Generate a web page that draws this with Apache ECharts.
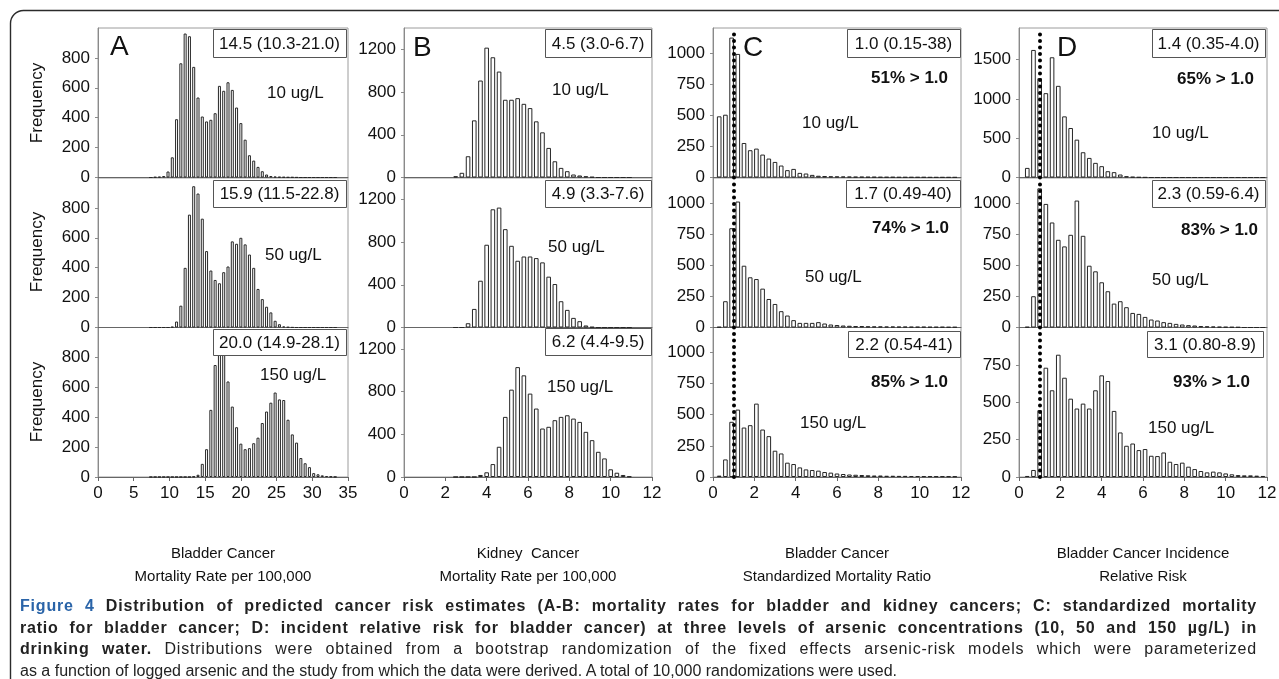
<!DOCTYPE html>
<html>
<head>
<meta charset="utf-8">
<script src="https://cdn.jsdelivr.net/npm/echarts@6.0.0/dist/echarts.min.js"></script>
<style>
html,body{margin:0;padding:0;background:#fff;}
#wrap{position:relative;width:1279px;height:679px;overflow:hidden;}
#c{position:absolute;left:0;top:0;width:1279px;height:679px;}
#cap{position:absolute;left:20px;top:595px;width:1237px;font-family:"Liberation Sans",Arial,Helvetica,sans-serif;font-size:16px;line-height:21.7px;color:#222;}
#cap .j{text-align:justify;text-align-last:justify;letter-spacing:0.8px;white-space:nowrap;}
#cap .fig{color:#2a64a8;}
</style>
</head>
<body>
<div id="wrap">
<div id="c"></div>
<div id="cap">
<div class="j"><b><span class="fig">Figure 4</span> Distribution of predicted cancer risk estimates (A-B: mortality rates for bladder and kidney cancers; C: standardized mortality</b></div>
<div class="j"><b>ratio for bladder cancer; D: incident relative risk for bladder cancer) at three levels of arsenic concentrations (10, 50 and 150 µg/L) in</b></div>
<div class="j"><b>drinking water.</b> Distributions were obtained from a bootstrap randomization of the fixed effects arsenic-risk models which were parameterized</div>
<div>as a function of logged arsenic and the study from which the data were derived. A total of 10,000 randomizations were used.</div>
</div>
</div>
<script>
// ---------------- DATA ----------------
// Panel A: bladder cancer mortality rate per 100,000 (bin centres)
const aBins = [7.4,8.0,8.6,9.2,9.8,10.4,11.0,11.6,12.2,12.8,13.4,14.0,14.6,15.2,15.8,16.4,17.0,17.6,18.2,18.8,19.4,20.0,20.6,21.2,21.8,22.4,23.0,23.6,24.2,24.8,25.4,26.0,26.6,27.2,27.8,28.4,29.0,29.6,30.2,30.8,31.4,32.0,32.6,33.2];
const aFreq10  = [0,3,5,10,40,135,390,764,963,945,740,535,408,375,386,430,613,580,637,586,468,364,253,149,113,71,42,20,10,6,4,3,2,2,1,0,0,0,0,0,0,0,0,0];
const aFreq50  = [0,0,0,0,0,5,40,146,399,755,945,896,728,511,381,318,296,370,408,576,560,600,556,488,399,258,190,139,101,45,22,7,3,1,0,0,0,0,0,0,0,0,0,0];
const aFreq150 = [0,0,0,0,0,0,0,0,0,0,3,15,88,186,449,749,940,900,639,471,333,223,186,193,226,263,361,438,497,565,519,515,383,285,230,127,92,66,26,18,11,6,3,1];

// Panel B: kidney cancer mortality rate per 100,000
const bBins = [2.5,2.8,3.1,3.4,3.7,4.0,4.3,4.6,4.9,5.2,5.5,5.8,6.1,6.4,6.7,7.0,7.3,7.6,7.9,8.2,8.5,8.8,9.1,9.4,9.7,10.0,10.3,10.6,10.9];
const bFreq10  = [12,44,199,535,908,1216,1126,992,728,728,743,690,650,526,423,277,152,90,59,28,19,12,5,0,0,0,0,0,0];
const bFreq50  = [0,0,40,174,438,775,1107,1123,921,765,625,665,665,650,610,476,407,246,165,90,59,19,5,0,0,0,0,0,0];
const bFreq150 = [0,0,0,0,19,44,121,283,563,818,1029,952,781,641,454,470,532,563,578,547,516,423,345,236,174,72,40,19,5];

// Panel C: bladder cancer standardized mortality ratio
const cBins = [0.3,0.6,0.9,1.2,1.5,1.8,2.1,2.4,2.7,3.0,3.3,3.6,3.9,4.2,4.5,4.8,5.1,5.4,5.7,6.0,6.3,6.6,6.9,7.2,7.5,7.8,8.1,8.4,8.7,9.0,9.3,9.6,9.9,10.2,10.5,10.8,11.1,11.4,11.7];
const cFreq10  = [491,504,1123,992,277,219,232,184,152,125,96,59,69,37,32,21,14,12,10,9,8,7,6,6,5,5,4,4,4,3,3,3,3,3,2,2,2,2,2];
const cFreq50  = [5,211,797,1011,496,403,389,312,229,189,131,96,59,37,37,37,43,32,24,20,16,14,12,12,10,9,9,8,8,7,7,6,6,6,5,5,5,4,4];
const cFreq150 = [11,141,443,541,397,416,589,381,328,211,189,115,104,77,61,56,51,40,35,28,24,20,18,16,14,12,12,10,10,9,9,8,8,7,7,6,6,6,5];

// Panel D: bladder cancer incidence relative risk
const dBins = [0.4,0.7,1.0,1.3,1.6,1.9,2.2,2.5,2.8,3.1,3.4,3.7,4.0,4.3,4.6,4.9,5.2,5.5,5.8,6.1,6.4,6.7,7.0,7.3,7.6,7.9,8.2,8.5,8.8,9.1,9.4,9.7,10.0,10.3,10.6,10.9,11.2,11.5,11.8];
const dFreq10  = [122,1621,1262,1072,1528,1165,777,629,481,321,249,186,144,80,68,38,17,8,4,2,0,0,0,0,0,0,0,0,0,0,0,0,0,0,0,0,0,0,0];
const dFreq50  = [5,251,1117,992,843,704,651,744,1019,736,496,451,363,291,192,211,163,117,109,85,64,56,43,37,29,24,19,16,12,10,8,6,5,4,3,0,0,0,0];
const dFreq150 = [7,47,447,731,580,818,664,524,458,491,458,580,680,642,442,298,209,224,180,187,142,140,164,102,87,96,69,53,40,31,36,31,24,18,13,11,11,9,7];

// Reference value (dotted line) for ratio panels
const refValue = 1.0;

// Text labels
const panelLetters = ['A','B','C','D'];
const concLabels = ['10 ug/L','50 ug/L','150 ug/L'];
const statLabels = [
  ['14.5 (10.3-21.0)','15.9 (11.5-22.8)','20.0 (14.9-28.1)'],
  ['4.5 (3.0-6.7)','4.9 (3.3-7.6)','6.2 (4.4-9.5)'],
  ['1.0 (0.15-38)','1.7 (0.49-40)','2.2 (0.54-41)'],
  ['1.4 (0.35-4.0)','2.3 (0.59-6.4)','3.1 (0.80-8.9)']
];
const pctLabels = {2:['51% > 1.0','74% > 1.0','85% > 1.0'], 3:['65% > 1.0','83% > 1.0','93% > 1.0']};
const xNames = ['Bladder Cancer\nMortality Rate per 100,000','Kidney  Cancer\nMortality Rate per 100,000','Bladder Cancer\nStandardized Mortality Ratio','Bladder Cancer Incidence\nRelative Risk'];
const yName = 'Frequency';

// ---------------- LAYOUT ----------------
const FONT = '"Liberation Sans", Arial, Helvetica, sans-serif';
const panels = [
  {bins:aBins, rows:[aFreq10,aFreq50,aFreq150], left:98,  width:250, xMax:35, xStep:5, yMax:[1000,1000,1000], yStep:[200,200,200], barW:3.0, ref:false},
  {bins:bBins, rows:[bFreq10,bFreq50,bFreq150], left:404, width:248, xMax:12, xStep:2, yMax:[1400,1400,1400], yStep:[400,400,400], barW:4.6, ref:false},
  {bins:cBins, rows:[cFreq10,cFreq50,cFreq150], left:713, width:248, xMax:12, xStep:2, yMax:[1200,1200,1200], yStep:[250,250,250], barW:4.6, ref:true},
  {bins:dBins, rows:[dFreq10,dFreq50,dFreq150], left:1019,width:248, xMax:12, xStep:2, yMax:[1900,1200,1000], yStep:[500,250,250], barW:4.6, ref:true}
];
const rowTop = [28, 178, 327.5];
const rowH = 149.5;
const plain = v => String(v);

const grids = [], xAxes = [], yAxes = [], series = [];
panels.forEach((p, c) => {
  p.rows.forEach((vals, r) => {
    const idx = grids.length;
    const bottom = (r === 2);
    grids.push({left:p.left, top:rowTop[r], width:p.width, height:rowH, show:true,
      borderColor:'#9c9c9c', borderWidth:1, backgroundColor:'transparent', containLabel:false, outerBoundsMode:'none'});
    xAxes.push({gridIndex:idx, type:'value', min:0, max:p.xMax, interval:p.xStep,
      axisLine:{show:true, onZero:false, lineStyle:{color:'#666', width:1}},
      axisTick:{show:bottom, length:4, inside:false, lineStyle:{color:'#666'}},
      axisLabel:{show:bottom, fontSize:17, fontFamily:FONT, color:'#111', margin:8, formatter:plain},
      splitLine:{show:false},
      name: bottom ? xNames[c] : '', nameLocation:'middle', nameGap:65,
      nameTextStyle:{fontSize:15, fontFamily:FONT, color:'#111', lineHeight:23}
    });
    yAxes.push({gridIndex:idx, type:'value', min:0, max:p.yMax[r], interval:p.yStep[r],
      axisLine:{show:true, lineStyle:{color:'#8a8a8a', width:1}},
      axisTick:{show:true, length:3, lineStyle:{color:'#8a8a8a'}},
      axisLabel:{fontSize:17, fontFamily:FONT, color:'#111', margin:8, showMaxLabel:false, formatter:plain},
      splitLine:{show:false}
    });
    const s = {type:'bar', xAxisIndex:idx, yAxisIndex:idx, silent:true, animation:false,
      data: p.bins.map((b, i) => [b, vals[i]]),
      barWidth:p.barW,
      itemStyle:{color:'#ffffff', borderColor:'#262626', borderWidth:1}
    };
    if (p.ref) {
      s.markLine = {silent:true, animation:false, symbol:['none','none'], label:{show:false},
        lineStyle:{color:'#000', width:4, type:[0.1, 6.4], cap:'round'},
        data:[{xAxis:refValue}]};
    }
    series.push(s);
  });
});

// Annotation layout (pixel positions of text blocks)
const letterPos = [[110,47],[413,48],[743,48],[1057,48]];
const boxPos = [
  [[213,29,133,28],[213,180,133,27],[213,329,133,26]],
  [[545,29,106,28],[545,180,106,27],[545,328,106,27]],
  [[847,29,113,28],[846,180,114,27],[848,331,112,26]],
  [[1152,29,113,28],[1152,180,113,27],[1147,331,116,26]]
];
const concPos = [
  [[267,93],[265,255],[260,375]],
  [[552,90],[548,247],[547,387]],
  [[802,123],[805,277],[800,423]],
  [[1152,133],[1152,280],[1148,428]]
];
const pctPos = {2:[[871,78],[872,228],[871,382]], 3:[[1177,79],[1181,230],[1173,382]]};
const freqPos = [[37,103],[37,252],[37,402]];

const graphics = [];
graphics.push({type:'rect', silent:true, z:1, shape:{x:10.5, y:10.5, width:1320, height:720, r:13},
  style:{fill:'none', stroke:'#2b2b2b', lineWidth:1.4}});
panelLetters.forEach((L, c) => {
  graphics.push({type:'text', silent:true, z:100, x:letterPos[c][0], y:letterPos[c][1],
    style:{text:L, font:'28px ' + FONT, fill:'#111', textAlign:'left', textVerticalAlign:'middle'}});
});
statLabels.forEach((col, c) => {
  col.forEach((t, r) => {
    const b = boxPos[c][r];
    graphics.push({type:'rect', silent:true, z:100, shape:{x:b[0]+0.5, y:b[1]+0.5, width:b[2], height:b[3]},
      style:{fill:'#fff', stroke:'#555', lineWidth:1}});
    graphics.push({type:'text', silent:true, z:101, x:b[0]+b[2]/2, y:b[1]+b[3]/2+1,
      style:{text:t, font:'17px ' + FONT, fill:'#111', textAlign:'center', textVerticalAlign:'middle'}});
  });
});
concPos.forEach((col, c) => {
  col.forEach((pos, r) => {
    graphics.push({type:'text', silent:true, z:100, x:pos[0], y:pos[1],
      style:{text:concLabels[r], font:'17px ' + FONT, fill:'#111', textAlign:'left', textVerticalAlign:'middle'}});
  });
});
Object.keys(pctPos).forEach(c => {
  pctPos[c].forEach((pos, r) => {
    graphics.push({type:'text', silent:true, z:100, x:pos[0], y:pos[1],
      style:{text:pctLabels[c][r], font:'bold 17px ' + FONT, fill:'#111', textAlign:'left', textVerticalAlign:'middle'}});
  });
});
freqPos.forEach(pos => {
  graphics.push({type:'text', silent:true, z:100, x:pos[0], y:pos[1], rotation:Math.PI/2,
    style:{text:yName, font:'17px ' + FONT, fill:'#111', textAlign:'center', textVerticalAlign:'middle'}});
});

const chart = echarts.init(document.getElementById('c'), null, {renderer:'canvas'});
chart.setOption({
  animation:false,
  backgroundColor:'#fff',
  textStyle:{fontFamily:FONT},
  grid:grids, xAxis:xAxes, yAxis:yAxes, series:series,
  graphic:{elements:graphics}
});
</script>
</body>
</html>
